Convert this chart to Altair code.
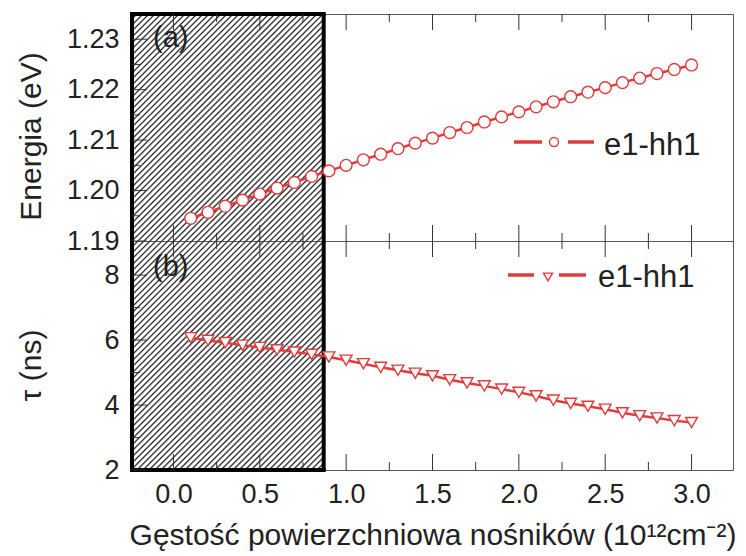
import altair as alt
import pandas as pd
import numpy as np

# ---------------- data ----------------
density = [0.1, 0.2, 0.3, 0.4, 0.5, 0.6, 0.7, 0.8, 0.9, 1.0,
           1.1, 1.2, 1.3, 1.4, 1.5, 1.6, 1.7, 1.8, 1.9, 2.0,
           2.1, 2.2, 2.3, 2.4, 2.5, 2.6, 2.7, 2.8, 2.9, 3.0]
energy = [1.1945, 1.1957, 1.1969, 1.1981, 1.1993, 1.2005, 1.2016, 1.2028, 1.2039, 1.2050,
          1.2061, 1.2072, 1.2083, 1.2094, 1.2104, 1.2115, 1.2125, 1.2136, 1.2146, 1.2156,
          1.2166, 1.2176, 1.2186, 1.2195, 1.2204, 1.2214, 1.2223, 1.2232, 1.2240, 1.2249]
tau = [6.07, 5.99, 5.92, 5.84, 5.77, 5.70, 5.63, 5.56, 5.48, 5.38,
       5.27, 5.16, 5.07, 4.98, 4.90, 4.78, 4.68, 4.59, 4.49, 4.39,
       4.28, 4.15, 4.05, 3.96, 3.87, 3.76, 3.67, 3.60, 3.52, 3.46]

x_ticks = [0.0, 0.5, 1.0, 1.5, 2.0, 2.5, 3.0]
x_minor = [0.25, 0.75, 1.25, 1.75, 2.25, 2.75]
energy_ticks = [1.19, 1.20, 1.21, 1.22, 1.23]
energy_minor = [1.195, 1.205, 1.215, 1.225]
tau_ticks = [2, 4, 6, 8]
tau_minor = [3, 5, 7]

series_label = "e1-hh1"
panel_labels = ["(a)", "(b)"]
y_titles = ["Energia (eV)", "τ (ns)"]
x_title = "Gęstość powierzchniowa nośników (10¹²cm⁻²)"
shaded = [-0.24, 0.87]          # hatched (excluded) density range

X_DOMAIN = [-0.24, 3.24]
E_DOMAIN = [1.19, 1.235]
T_DOMAIN = [2.0, 9.05]

# ---------------- style ----------------
W = 601
H_TOP = 227
H_BOT = 229
RED = "#e23b3b"
INK = "#222222"
FONT = "Liberation Sans"
HATCH_STEP = 6


def hatch_frame(H, ydom, offset):
    """Diagonal hatch segments clipped to the shaded box, in data units."""
    kx = W / (X_DOMAIN[1] - X_DOMAIN[0])
    wpx = (shaded[1] - X_DOMAIN[0]) * kx
    rows = []
    for c in np.arange(-H - HATCH_STEP + offset, wpx + HATCH_STEP, HATCH_STEP):
        lo = max(0.0, -c)
        hi = min(float(H), wpx - c)
        if hi <= lo:
            continue
        rows.append({
            "x": X_DOMAIN[0] + (c + lo) / kx,
            "x2": X_DOMAIN[0] + (c + hi) / kx,
            "y": ydom[0] + lo / H * (ydom[1] - ydom[0]),
            "y2": ydom[0] + hi / H * (ydom[1] - ydom[0]),
        })
    return pd.DataFrame(rows)


def panel(values, ydom, H, yticks, yminor, yfmt, ytitle, ytitle_y, show_x,
          hatch_offset, shape, leg, label, label_y, border_y):
    xscale = alt.Scale(domain=X_DOMAIN, nice=False, zero=False)
    yscale = alt.Scale(domain=ydom, nice=False, zero=False)
    if show_x:
        xaxis = alt.Axis(values=x_ticks, format=".1f", labelFont=FONT, labelFontSize=27,
                         labelColor=INK, labelPadding=11, ticks=False, domain=False, grid=False,
                         labelOverlap=False, title=x_title, titleFont=FONT, titleFontSize=30,
                         titleFontWeight="normal", titleColor=INK, titlePadding=13)
    else:
        xaxis = None
    yaxis = alt.Axis(values=yticks, format=yfmt, labelFont=FONT, labelFontSize=27,
                     labelColor=INK, labelPadding=13, ticks=False, domain=False, grid=False,
                     labelOverlap=False, title=ytitle, titleFont=FONT, titleFontSize=30,
                     titleFontWeight="normal", titleColor=INK, titleX=-101, titleY=ytitle_y,
                     titleAlign="center", titleBaseline="middle", titleAngle=270)

    def xe(f):
        return alt.X(f"{f}:Q", scale=xscale, axis=xaxis)

    def ye(f):
        return alt.Y(f"{f}:Q", scale=yscale, axis=yaxis)

    one = pd.DataFrame({"k": [0]})

    hatch = alt.Chart(hatch_frame(H, ydom, hatch_offset)).mark_rule(
        color="#333333", strokeWidth=1.3).encode(x=xe("x"), x2="x2", y=ye("y"), y2="y2")

    vborder = alt.Chart(pd.DataFrame({"x": shaded})).mark_rule(
        color="black", strokeWidth=4, strokeCap="butt").encode(x=xe("x"))
    hborder = alt.Chart(pd.DataFrame({"x": [shaded[0]], "x2": [shaded[1]], "y": [border_y]})).mark_rule(
        color="black", strokeWidth=4, strokeCap="square").encode(x=xe("x"), x2="x2", y=ye("y"))

    tick_color = "#333333"
    xt = pd.DataFrame({"t": x_ticks})
    xm = pd.DataFrame({"t": x_minor})
    ticks = [
        alt.Chart(xt).mark_rule(color=tick_color).encode(x=xe("t"), y=alt.value(H), y2=alt.value(H - 16)),
        alt.Chart(xt).mark_rule(color=tick_color).encode(x=xe("t"), y=alt.value(0), y2=alt.value(16)),
        alt.Chart(xm).mark_rule(color=tick_color).encode(x=xe("t"), y=alt.value(H), y2=alt.value(H - 8)),
        alt.Chart(xm).mark_rule(color=tick_color).encode(x=xe("t"), y=alt.value(0), y2=alt.value(8)),
        alt.Chart(pd.DataFrame({"t": yticks})).mark_rule(color=tick_color).encode(
            y=ye("t"), x=alt.value(0), x2=alt.value(15)),
        alt.Chart(pd.DataFrame({"t": yminor})).mark_rule(color=tick_color).encode(
            y=ye("t"), x=alt.value(0), x2=alt.value(8)),
    ]

    df = pd.DataFrame({"d": density, "v": values})
    line = alt.Chart(df).mark_line(color=RED, strokeWidth=2.5).encode(x=xe("d"), y=ye("v"))
    pts = alt.Chart(df).mark_point(shape=shape, filled=True, fill="white", stroke=RED,
                                   strokeWidth=1.4, size=140, opacity=1).encode(x=xe("d"), y=ye("v"))

    (s1a, s1b, s2a, s2b, ly, mx, my, tx, ty) = leg
    legend = [
        alt.Chart(one).mark_rule(color=RED, strokeWidth=3.5).encode(
            x=alt.value(s1a), x2=alt.value(s1b), y=alt.value(ly)),
        alt.Chart(one).mark_rule(color=RED, strokeWidth=3.5).encode(
            x=alt.value(s2a), x2=alt.value(s2b), y=alt.value(ly)),
        alt.Chart(one).mark_point(shape=shape, filled=True, fill="white", stroke=RED,
                                  strokeWidth=1.4, size=80, opacity=1).encode(
            x=alt.value(mx), y=alt.value(my)),
        alt.Chart(one).mark_text(align="left", baseline="alphabetic", font=FONT, fontSize=31,
                                 color=INK).encode(x=alt.value(tx), y=alt.value(ty),
                                                   text=alt.value(series_label)),
    ]
    tag = alt.Chart(one).mark_text(align="left", baseline="alphabetic", font=FONT, fontSize=29,
                                   color=INK).encode(x=alt.value(21), y=alt.value(label_y),
                                                     text=alt.value(label))

    return alt.layer(hatch, vborder, hborder, *ticks, line, pts, *legend, tag).properties(
        width=W, height=H)


top = panel(energy, E_DOMAIN, H_TOP, energy_ticks, energy_minor, ".2f", y_titles[0], 122,
            False, HATCH_STEP - (H_BOT % HATCH_STEP), "circle",
            (382, 410, 436, 462, 128, 422, 128, 472, 141), panel_labels[0], 33, E_DOMAIN[1])
bottom = panel(tau, T_DOMAIN, H_BOT, tau_ticks, tau_minor, "d", y_titles[1], 124,
               True, 0, "triangle-down",
               (376, 402, 427, 454, 34, 416, 36, 466, 46), panel_labels[1], 35, T_DOMAIN[0])

chart = alt.vconcat(top, bottom, spacing=0, bounds="flush").properties(
    padding={"left": 7, "top": 2, "right": 0, "bottom": 0}
).configure_view(stroke="#555555", strokeWidth=1)

chart.save("out.html", embed_options={"renderer": "svg", "actions": False})
